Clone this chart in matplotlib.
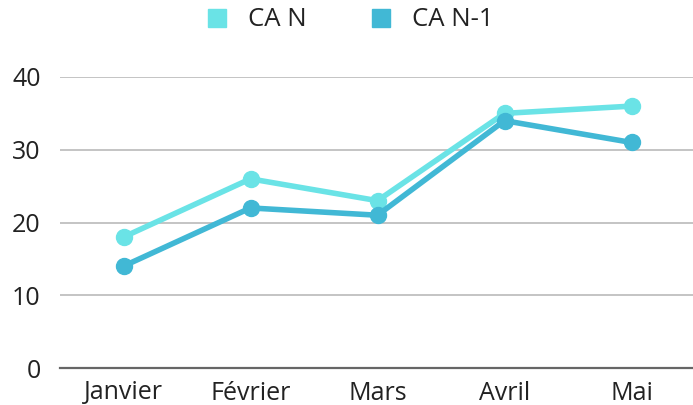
import matplotlib
matplotlib.use("Agg")
import matplotlib.pyplot as plt
from matplotlib.lines import Line2D

categories = ["Janvier", "Février", "Mars", "Avril", "Mai"]
ca_n = [18, 26, 23, 35, 36]
ca_n1 = [14, 22, 21, 34, 31]
yticks = [0, 10, 20, 30, 40]

plt.rcParams['font.family'] = ['Open Sans', 'DejaVu Sans']

fig = plt.figure(figsize=(6.93, 4.05), dpi=100)
ax = fig.add_axes([60/693, 1-368/405, 635/693, (368-77)/405])

c_n = "#6ae3e6"
c_n1 = "#41b8d5"
x = list(range(len(categories)))
ax.plot(x, ca_n, color=c_n, lw=4, marker="o", ms=11.5, zorder=3, solid_capstyle="round")
ax.plot(x, ca_n1, color=c_n1, lw=4, marker="o", ms=11.5, zorder=4, solid_capstyle="round")

ax.set_xlim(-0.5, len(categories) - 0.5)
ax.set_ylim(0, 40)
ax.set_yticks(yticks)
ax.set_xticks(x)
ax.set_xticklabels(categories)
for yv in yticks[1:]:
    ax.axhline(yv, color="#bfbfbf", lw=1.3, zorder=1)
ax.axhline(0, color="#666666", lw=1.6, zorder=2, clip_on=False)
for s in ax.spines.values():
    s.set_visible(False)
ax.tick_params(axis="both", length=0, labelsize=18, colors="#222222")
ax.tick_params(axis="y", pad=14)
ax.tick_params(axis="x", pad=9)

handles = [Line2D([], [], ls="none", marker="s", ms=13, color=c_n, label="CA N"),
           Line2D([], [], ls="none", marker="s", ms=13, color=c_n1, label="CA N-1")]
fig.legend(handles=handles, loc="center", bbox_to_anchor=(349/693, 1-20/405), ncol=2,
           frameon=False, fontsize=18.5, handlelength=1.0, handletextpad=0.7,
           columnspacing=2.4, labelcolor="#222222")

fig.savefig("out.png", dpi=100)
